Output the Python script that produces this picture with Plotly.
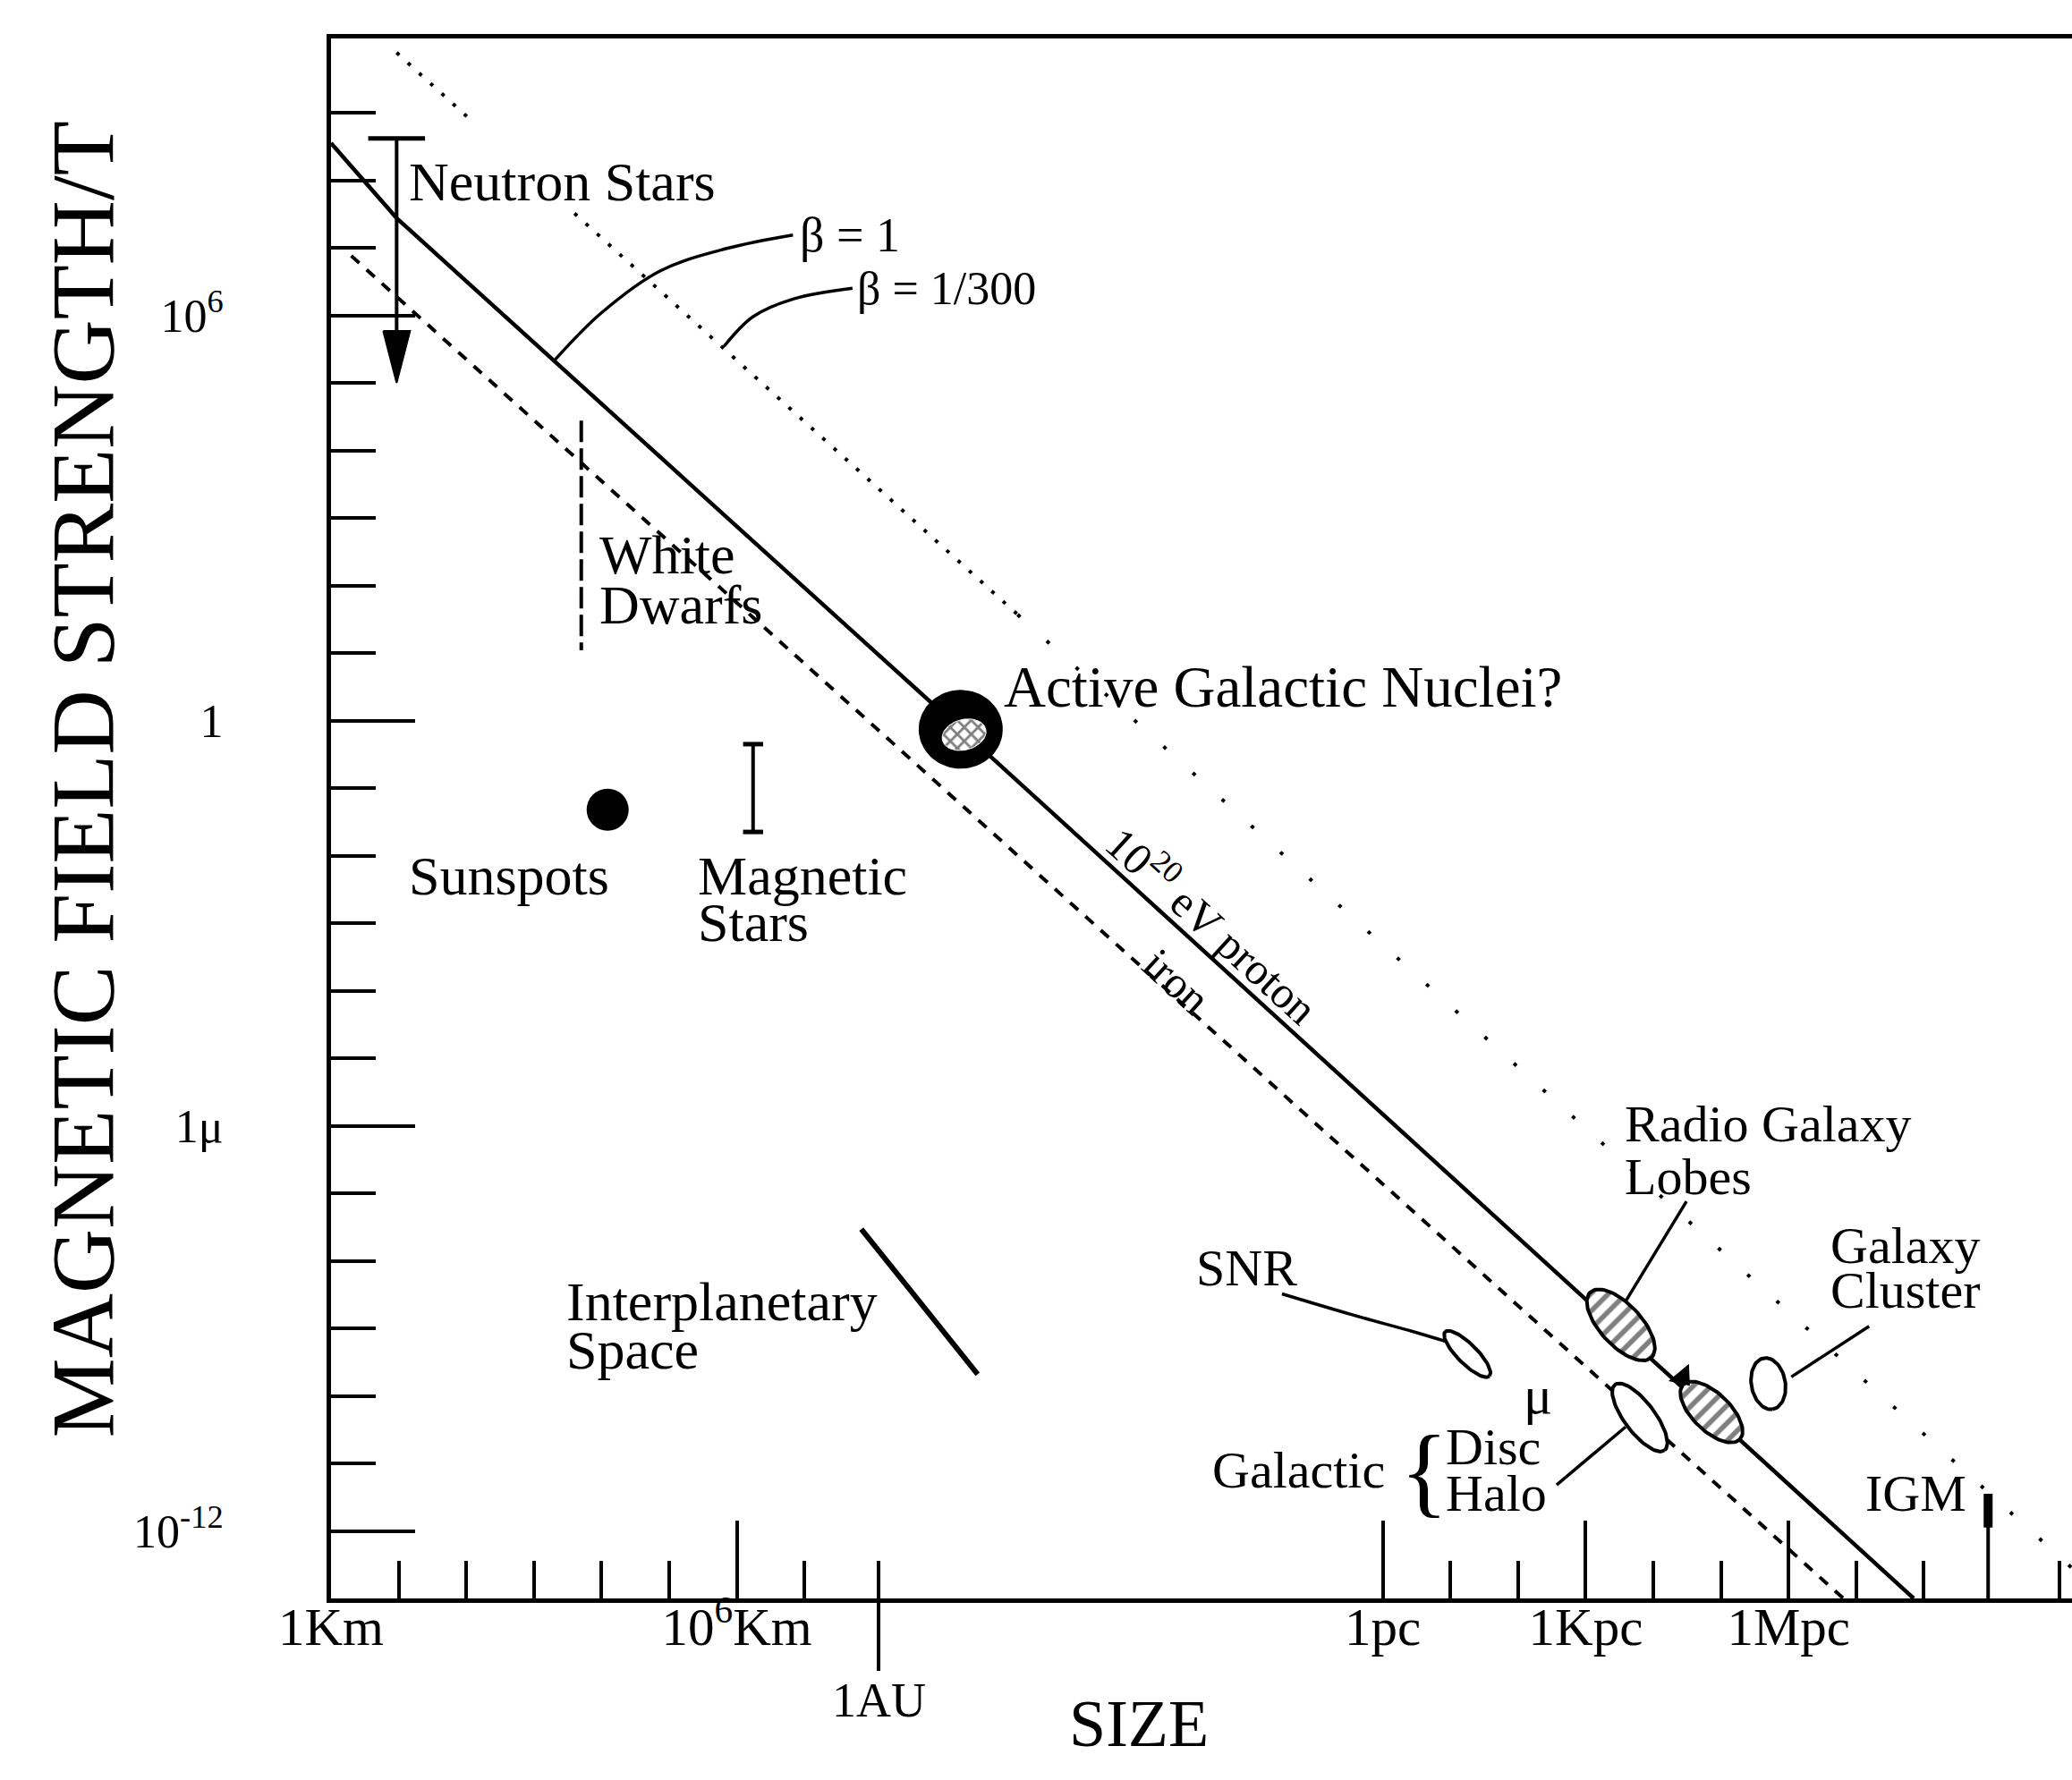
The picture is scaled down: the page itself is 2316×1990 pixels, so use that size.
import numpy as np
import plotly.graph_objects as go

# ---------------- data (x: size in decades of km as drawn, y: log10 B / T) ----------------
X_RANGE = [0.0, 25.74]
Y_RANGE = [-13.0, 10.1]

x_major_pos = [0, 6, 15.55, 18.55, 21.55]
x_major_text = ["1Km", "10<sup>6</sup>Km", "1pc", "1Kpc", "1Mpc"]
x_minor_pos = [1, 2, 3, 4, 5, 7, 8.1, 16.55, 17.55, 19.55, 20.55, 22.55, 23.55, 25.55]
au_pos = [8.1]
au_text = ["1AU"]

y_major_pos = [6, 0, -6, -12]
y_major_text = ["10<sup>6</sup>", "1", "1μ", "10<sup>-12</sup>"]
y_minor_pos = [9, 8, 7, 5, 4, 3, 2, 1, -1, -2, -3, -4, -5, -7, -8, -9, -10, -11]

# Hillas lines
proton_x = [0.0, 0.97, 9.31, 23.4]
proton_y = [8.55, 7.44, -0.13, -13.0]
iron_x = [0.3, 22.36]
iron_y = [6.88, -13.0]
beta300_dense_x = [0.97, 2.08, None, 3.6, 10.15]
beta300_dense_y = [9.89, 8.88, None, 7.51, 1.57]
beta300_sparse_x = [10.15, 25.74]
beta300_sparse_y = [1.57, -12.55]

# objects
ns_x, ns_top, ns_tip = 0.97, 8.62, 5.0
wd_x, wd_top, wd_bot = 3.70, 4.44, 1.04
ms_x, ms_top, ms_bot = 6.24, -0.35, -1.65
sunspot_x, sunspot_y = 4.09, -1.32
agn_x, agn_y = 9.31, -0.13
ip_x = [7.84, 9.56]
ip_y = [-7.53, -9.68]
snr_x, snr_y = 16.8, -9.38
disc_x, disc_y = 19.35, -10.32
cluster_x, cluster_y = 21.25, -9.82
lobe1_x, lobe1_y = 19.07, -8.95
lobe2_x, lobe2_y = 20.41, -10.24
wedge_x, wedge_y = 19.98, -9.72
igm_x = 24.5
igm_y = [-11.45, -11.95]

# leader lines
beta1_leader_x = [3.31, 3.99, 4.87, 5.85, 6.83]
beta1_leader_y = [5.34, 6.03, 6.66, 6.99, 7.19]
beta300_leader_x = [5.81, 6.24, 6.83, 7.71]
beta300_leader_y = [5.54, 5.98, 6.24, 6.40]
snr_leader_x = [14.06, 15.1, 16.0, 16.5]
snr_leader_y = [-8.49, -8.8, -9.05, -9.2]
halo_leader_x = [18.12, 19.14]
halo_leader_y = [-11.32, -10.46]
lobes_leader_x = [20.04, 19.14]
lobes_leader_y = [-7.12, -8.6]
cluster_leader_x = [21.59, 22.74]
cluster_leader_y = [-9.72, -8.97]

# text labels
label_text = ["Neutron Stars", "β = 1", "β = 1/300", "White", "Dwarfs",
              "Active Galactic Nuclei?", "Sunspots", "Magnetic", "Stars",
              "Interplanetary", "Space", "SNR", "μ", "Galactic", "Disc", "Halo",
              "Radio Galaxy", "Lobes", "Galaxy", "Cluster", "IGM"]
label_x = [1.12, 6.9, 7.75, 3.94, 3.94, 9.92, 2.63, 5.4, 5.4, 3.45, 3.45,
           13.54, 17.84, 14.31, 16.45, 16.45, 19.1, 19.1, 22.14, 22.14, 23.43]
label_y = [7.98, 7.19, 6.40, 2.46, 1.72, 0.5, -2.3, -2.3, -2.99, -8.6, -9.32,
           -8.1, -9.99, -11.1, -10.76, -11.45, -5.97, -6.75, -7.77, -8.44, -11.45]
label_anchor = ["left", "left", "left", "left", "left", "left", "center", "left", "left",
                "left", "left", "center", "center", "center", "left", "left",
                "left", "left", "left", "left", "center"]
label_size = [62, 54, 52, 62, 62, 65, 62, 62, 62, 62, 62,
              58, 60, 58, 58, 58, 58, 58, 58, 58, 58]
brace_x, brace_y = 16.17, -11.1

proton_label = "10<sup>20</sup> eV proton"
proton_label_x, proton_label_y = 13.05, -3.0
iron_label = "iron"
iron_label_x, iron_label_y = 12.5, -3.86

# ---------------- layout constants ----------------
W, H = 2316, 1990
ML, MR, MT, MB = 370, 0, 43, 203
PX_X = (W - ML - MR) / (X_RANGE[1] - X_RANGE[0])
PX_Y = (H - MT - MB) / (Y_RANGE[1] - Y_RANGE[0])
FONT = "Liberation Serif, Times New Roman, serif"


def ellipse(cx, cy, length_px, width_px, angle_deg, n=80):
    t = np.linspace(0, 2 * np.pi, n)
    a, b = length_px / 2, width_px / 2
    th = np.deg2rad(angle_deg)
    u, v = a * np.cos(t), b * np.sin(t)
    dx = u * np.cos(th) - v * np.sin(th)
    dy = u * np.sin(th) + v * np.cos(th)
    return cx + dx / PX_X, cy - dy / PX_Y


fig = go.Figure()


def line(x, y, width=4, dash="solid", xaxis="x", shape="linear"):
    fig.add_trace(go.Scatter(x=x, y=y, mode="lines", xaxis=xaxis,
                             line=dict(color="black", width=width, dash=dash, shape=shape),
                             hoverinfo="skip", connectgaps=False))


# main lines
line(proton_x, proton_y, 4.5)
line(iron_x, iron_y, 4, "12px,11px")
line(beta300_dense_x, beta300_dense_y, 4, "4px,13px")
line(beta300_sparse_x, beta300_sparse_y, 4, "4px,40px")

# neutron stars
line([ns_x, ns_x], [ns_top, ns_tip + 0.3], 4)
line([ns_x - 0.42, ns_x + 0.42], [ns_top, ns_top], 5)
hw, hh = 15 / PX_X, 58 / PX_Y
fig.add_trace(go.Scatter(x=[ns_x - hw, ns_x + hw, ns_x, ns_x - hw],
                         y=[ns_tip + hh, ns_tip + hh, ns_tip, ns_tip + hh],
                         mode="lines", fill="toself", fillcolor="black",
                         line=dict(color="black", width=2), hoverinfo="skip"))

# white dwarfs
line([wd_x, wd_x], [wd_top, wd_bot], 4, "24px,7px")
# magnetic stars
fig.add_trace(go.Scatter(x=[ms_x, ms_x], y=[ms_top, ms_bot], mode="lines+markers",
                         line=dict(color="black", width=4),
                         marker=dict(symbol="line-ew", size=16,
                                     line=dict(color="black", width=5)),
                         hoverinfo="skip"))
# sunspots
fig.add_trace(go.Scatter(x=[sunspot_x], y=[sunspot_y], mode="markers",
                         marker=dict(size=47, color="black"), hoverinfo="skip"))
# interplanetary space (also carries the 1AU axis)
line(ip_x, ip_y, 6, xaxis="x2")

# AGN blob
ex, ey = ellipse(agn_x, agn_y, 92, 86, 0)
fig.add_trace(go.Scatter(x=ex, y=ey, mode="lines", fill="toself", fillcolor="black",
                         line=dict(color="black", width=2), hoverinfo="skip"))
ex, ey = ellipse(agn_x + 0.05, agn_y - 0.08, 50, 34, -15)
fig.add_trace(go.Scatter(x=ex, y=ey, mode="lines", fill="toself", fillcolor="white",
                         fillpattern=dict(shape="x", fgcolor="black", bgcolor="white",
                                          size=11, solidity=0.45),
                         line=dict(color="white", width=1), hoverinfo="skip"))

# ellipses: SNR, galactic disc, galaxy cluster
for cx, cy, L, Wd, ang in [(snr_x, snr_y, 70, 22, 45),
                           (disc_x, disc_y, 92, 34, 53),
                           (cluster_x, cluster_y, 58, 38, 80)]:
    ex, ey = ellipse(cx, cy, L, Wd, ang)
    fig.add_trace(go.Scatter(x=ex, y=ey, mode="lines", fill="toself", fillcolor="white",
                             line=dict(color="black", width=4), hoverinfo="skip"))

# radio lobes
for cx, cy, L, Wd, ang in [(lobe1_x, lobe1_y, 100, 46, 47),
                           (lobe2_x, lobe2_y, 88, 42, 44)]:
    ex, ey = ellipse(cx, cy, L, Wd, ang)
    fig.add_trace(go.Scatter(x=ex, y=ey, mode="lines", fill="toself", fillcolor="white",
                             fillpattern=dict(shape="/", fgcolor="black", bgcolor="white",
                                              size=14, solidity=0.4),
                             line=dict(color="black", width=4), hoverinfo="skip"))
fig.add_trace(go.Scatter(x=[wedge_x], y=[wedge_y], mode="markers",
                         marker=dict(symbol="triangle-down", size=26, color="black",
                                     angle=-40), hoverinfo="skip"))

# IGM marker and its tall tick
line([igm_x, igm_x], igm_y, 10)
line([igm_x, igm_x], [Y_RANGE[0], Y_RANGE[0] + 87 / PX_Y], 4)

# leaders
line(beta1_leader_x, beta1_leader_y, 3.5, shape="spline")
line(beta300_leader_x, beta300_leader_y, 3.5, shape="spline")
line(snr_leader_x, snr_leader_y, 3.5, shape="spline")
line(halo_leader_x, halo_leader_y, 3.5)
line(lobes_leader_x, lobes_leader_y, 3.5)
line(cluster_leader_x, cluster_leader_y, 3.5)

# annotations
ann = []
for t, x, y, a, s in zip(label_text, label_x, label_y, label_anchor, label_size):
    ann.append(dict(text=t, x=x, y=y, xref="x", yref="y", xanchor=a, yanchor="middle",
                    showarrow=False, font=dict(family=FONT, size=s, color="black")))
ann.append(dict(text="{", x=brace_x, y=brace_y, xref="x", yref="y", xanchor="center",
                yanchor="middle", showarrow=False,
                font=dict(family=FONT, size=112, color="black")))
ann.append(dict(text=proton_label, x=proton_label_x, y=proton_label_y, xref="x", yref="y",
                textangle=42.3, showarrow=False,
                font=dict(family=FONT, size=50, color="black")))
ann.append(dict(text=iron_label, x=iron_label_x, y=iron_label_y, xref="x", yref="y",
                textangle=42.3, showarrow=False,
                font=dict(family=FONT, size=50, color="black")))
# axis titles
ann.append(dict(text="SIZE", x=11.94, y=-(1927 - (H - MB)) / (H - MT - MB),
                xref="x", yref="paper", xanchor="center", yanchor="middle",
                showarrow=False, font=dict(family=FONT, size=74, color="black")))
ann.append(dict(text="MAGNETIC FIELD STRENGTH/T", x=-(ML - 92) / (W - ML - MR), y=-0.87,
                xref="paper", yref="y", textangle=-90, xanchor="center", yanchor="middle",
                showarrow=False, font=dict(family=FONT, size=100, color="black")))

fig.update_layout(
    width=W, height=H, margin=dict(l=ML, r=MR, t=MT, b=MB),
    paper_bgcolor="white", plot_bgcolor="white", showlegend=False,
    font=dict(family=FONT, color="black"),
    annotations=ann,
    xaxis=dict(range=X_RANGE, showgrid=False, zeroline=False,
               showline=True, linecolor="black", linewidth=5, mirror=True,
               tickmode="array", tickvals=x_major_pos, ticktext=x_major_text,
               ticks="inside", ticklen=87, tickwidth=4, tickcolor="black",
               ticklabelstandoff=-24,
               tickfont=dict(family=FONT, size=59, color="black"),
               minor=dict(tickmode="array", tickvals=x_minor_pos, ticks="inside",
                          ticklen=42, tickwidth=4, tickcolor="black")),
    xaxis2=dict(range=X_RANGE, overlaying="x", anchor="y", side="bottom",
                showgrid=False, zeroline=False, showline=False,
                tickmode="array", tickvals=au_pos, ticktext=au_text,
                ticks="outside", ticklen=80, tickwidth=4, tickcolor="black",
                ticklabelstandoff=-14,
                tickfont=dict(family=FONT, size=54, color="black")),
    yaxis=dict(range=Y_RANGE, showgrid=False, zeroline=False,
               showline=True, linecolor="black", linewidth=5, mirror=False,
               tickmode="array", tickvals=y_major_pos, ticktext=y_major_text,
               ticks="inside", ticklen=94, tickwidth=4, tickcolor="black",
               ticklabelstandoff=105,
               tickfont=dict(family=FONT, size=52, color="black"),
               minor=dict(tickmode="array", tickvals=y_minor_pos, ticks="inside",
                          ticklen=50, tickwidth=4, tickcolor="black")),
)

fig.write_html("out.html")
